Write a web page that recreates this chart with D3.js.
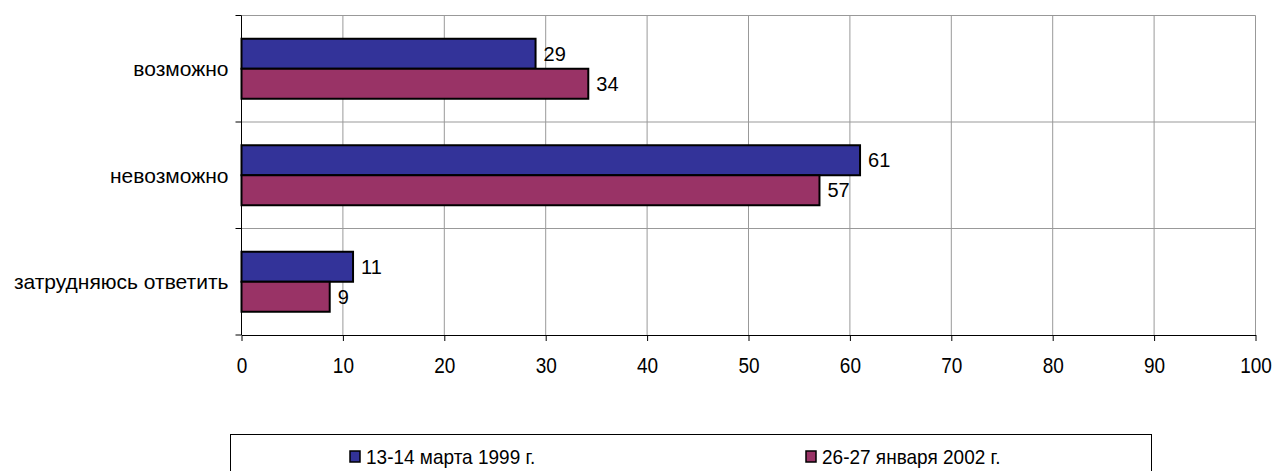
<!DOCTYPE html>
<html><head><meta charset="utf-8">
<script src="https://cdn.jsdelivr.net/npm/d3@7"></script>
<style>body{margin:0;background:#fff}svg{display:block;font-family:"Liberation Sans",Arial,sans-serif}</style>
</head><body><svg id="c" width="1274" height="471"></svg>
<script>
const categories = ["возможно", "невозможно", "затрудняюсь ответить"];
const seriesNames = ["13-14 марта 1999 г.", "26-27 января 2002 г."];
const series1999 = [29, 61, 11];
const series2002 = [34.2, 57, 8.7];
const xTicks = [0,10,20,30,40,50,60,70,80,90,100];
const colors = ["#333399", "#993366"];

const svg = d3.select("#c");
const L = 241.5, R = 1255.5, T = 15.5, B = 335;
const x = d3.scaleLinear().domain([0,100]).range([L,R]);
const y = d3.scaleBand().domain(categories).range([T,B]).paddingInner(0).paddingOuter(0);
const inner = d3.scaleBand().domain([0,1]).range([0, y.bandwidth()]).paddingOuter(0.775).paddingInner(0);

// grid
const g = svg.append("g");
g.selectAll("line.v").data(xTicks.slice(1)).join("line")
  .attr("x1", d=>x(d)).attr("x2", d=>x(d)).attr("y1", T).attr("y2", B)
  .attr("stroke", "#999").attr("stroke-width", 1);
const bounds = [T].concat(categories.slice(1).map(c=>y(c)));
g.selectAll("line.h").data(bounds).join("line")
  .attr("x1", L).attr("x2", R).attr("y1", d=>d).attr("y2", d=>d)
  .attr("stroke", "#999").attr("stroke-width", 1);

// bars
const data = [];
categories.forEach((c,i)=>{ data.push({c, s:0, v:series1999[i]}); data.push({c, s:1, v:series2002[i]}); });
svg.selectAll("rect.bar").data(data).join("rect")
  .attr("x", x(0)).attr("y", d=>y(d.c)+inner(d.s))
  .attr("width", d=>x(d.v)-x(0)).attr("height", inner.bandwidth())
  .attr("fill", d=>colors[d.s]).attr("stroke", "#000").attr("stroke-width", 2);
svg.selectAll("text.val").data(data).join("text")
  .attr("x", d=>x(d.v)+8).attr("y", d=>y(d.c)+inner(d.s)+inner.bandwidth()/2)
  .attr("dy", "0.35em").attr("font-size", 20).attr("fill", "#000")
  .text(d=>d3.format(".0f")(d.v));

// x axis
const xa = svg.append("g").attr("transform", `translate(0,${B})`)
  .call(d3.axisBottom(x).tickValues(xTicks).tickSize(6).tickSizeOuter(0));
xa.select(".domain").attr("stroke", "#000");
xa.selectAll(".tick line").attr("stroke", "#000");
xa.selectAll("text").attr("y", 0).attr("dy", 0)
  .attr("transform", "translate(0,37.7) scale(1,1.12)")
  .attr("font-size", 19).attr("font-family", "Liberation Sans, Arial, sans-serif").attr("fill","#000");

// y axis
const ya = svg.append("g").attr("transform", `translate(${L},0)`);
ya.append("line").attr("x1",0).attr("x2",0).attr("y1",T).attr("y2",B).attr("stroke","#000");
ya.selectAll("line.t").data(bounds.concat([B])).join("line")
  .attr("x1",-6).attr("x2",0).attr("y1",d=>d).attr("y2",d=>d).attr("stroke","#000");
ya.selectAll("text").data(categories).join("text")
  .attr("x", -13).attr("y", d=>y(d)+y.bandwidth()/2).attr("dy","0.35em")
  .attr("text-anchor","end").attr("font-size",21).attr("fill","#000").text(d=>d);

// legend
const lg = svg.append("g");
lg.append("rect").attr("x",230.5).attr("y",434.5).attr("width",921).attr("height",50)
  .attr("fill","#fff").attr("stroke","#000").attr("stroke-width",1);
const lx = [350, 806];
seriesNames.forEach((n,i)=>{
  lg.append("rect").attr("x",lx[i]).attr("y",451).attr("width",10).attr("height",11)
    .attr("fill",colors[i]).attr("stroke","#000").attr("stroke-width",1.5);
  lg.append("text").attr("transform", `translate(${lx[i]+16},464) scale(1,1.1)`)
    .attr("font-size",19).attr("fill","#000").text(n);
});
</script></body></html>
